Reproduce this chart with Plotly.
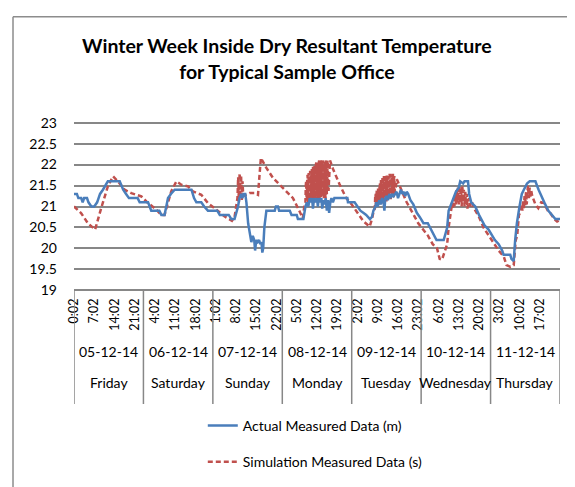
import plotly.graph_objects as go

# hours since 05-12-14 0:02
actual_hours = [0, 1, 1.5, 2.5, 3, 3.5, 4.5, 5, 6, 7, 8, 9, 10, 11, 11.7, 15.8, 16.5, 17, 18, 19,
                22, 22.7, 25.6, 26.7, 29.5, 30.2, 31.3, 32.5, 33.5, 34.8, 40.6, 41.5, 42.3, 44, 45, 46.3,
                49.5, 50.4, 53.5, 54.4, 55.5, 56.7, 57.2, 57.8, 58.2, 58.6, 59.2, 59.6, 60.2, 60.7, 61.3,
                61.8, 62.3, 62.6, 63, 63.5, 64, 64.4, 64.8, 65.1, 65.4, 65.8, 66.5, 69.4, 69.8, 70.5, 70.9,
                74.6, 75.2, 77, 77.4, 79.3, 80, 80.5, 81, 81.5, 82, 82.3, 82.6, 83, 83.5, 84, 84.3, 84.6,
                85, 85.5, 85.8, 86.2, 86.6, 87, 87.4, 87.8, 88.2, 88.6, 89, 89.5, 90, 94.5, 94.7, 97, 98,
                99, 100, 101, 102.3, 103, 103.5, 104.2, 104.5, 105, 105.5, 106, 106.5, 107, 107.3, 107.6,
                108, 108.5, 109, 109.5, 110, 110.5, 111, 111.5, 112, 112.5, 113, 113.5, 114, 114.5, 115,
                115.5, 116.3, 117.3, 118.5, 119.5, 120.8, 122.3, 123, 124, 125.3, 127.8, 128.3, 129, 129.5,
                130.5, 131.5, 132, 133, 133.5, 134.5, 135, 136.2, 136.6, 137.3, 138.7, 140, 141.9, 143.3,
                144.5, 145.5, 146.8, 148, 148.5, 150.8, 151.2, 152, 152.5, 153.1, 154, 154.8, 155.5, 156.6,
                157.5, 159.5, 160.6, 161.5, 162.9, 164, 165.2, 166.4, 168]
actual_temp = [21.3, 21.3, 21.2, 21.2, 21.1, 21.2, 21.2, 21.1, 21.0, 21.0, 21.1, 21.3, 21.4, 21.5, 21.6, 21.6, 21.5, 21.4, 21.3, 21.2,
               21.2, 21.1, 21.1, 20.9, 20.9, 20.8, 20.8, 21.2, 21.3, 21.4, 21.4, 21.2, 21.1, 21.1, 21.0, 20.9,
               20.9, 20.8, 20.8, 20.7, 20.7, 21.0, 21.2, 21.3, 21.2, 21.3, 21.3, 21.1, 20.6, 20.35, 20.15,
               20.3, 20.2, 19.95, 20.2, 20.15, 20.2, 20.1, 20.15, 19.9, 20.0, 20.5, 20.9, 20.9, 21.0, 21.0, 20.9,
               20.9, 20.8, 20.8, 20.7, 20.7, 21.0, 21.1, 21.0, 21.2, 21.1, 21.2, 20.95, 21.2, 21.1, 21.2, 21.0, 21.2,
               21.1, 21.2, 20.95, 21.15, 21.05, 21.2, 20.9, 21.15, 20.85, 21.1, 21.2, 21.1, 21.2, 21.2, 21.1, 21.1, 21.0,
               20.9, 20.85, 20.8, 20.7, 20.75, 20.9, 21.0, 21.1, 21.0, 21.15, 21.05, 21.2, 21.1, 20.9, 21.2,
               21.25, 21.15, 21.3, 21.2, 21.3, 21.25, 21.3, 21.35, 21.2, 21.3, 21.4, 21.3, 21.35, 21.25, 21.35,
               21.3, 21.15, 21.05, 20.85, 20.75, 20.6, 20.6, 20.5, 20.35, 20.2, 20.2, 20.35, 20.5, 20.9,
               21.1, 21.25, 21.35, 21.45, 21.6, 21.55, 21.6, 21.6, 21.3, 21.1, 21.0, 20.8, 20.55, 20.45,
               20.3, 20.2, 20.1, 19.95, 19.85, 19.85, 19.75, 19.7, 20.2, 20.6, 21.0, 21.3, 21.4, 21.55,
               21.6, 21.6, 21.4, 21.25, 21.05, 20.9, 20.8, 20.7, 20.7]

sim_hours = [0, 2.5, 4.8, 7.3, 9.4, 11.7, 13.5, 15.2, 17.5, 19.8, 23.3, 25.6, 27.9, 30.2, 31.3, 33.6, 35.4,
             37.1, 39.4, 41.1, 44, 46.3, 48.6, 52.1, 54.6, 55.5, 56.5, 56.75, 57, 57.25, 57.5, 57.75, 58,
             58.25, 58.5, 60.7, 62.4, 63.6, 64.6, 66.5, 68.8, 71.1, 73.4, 75.7, 78, 79.1, 79.7,
             80, 80.125, 80.25, 80.375, 80.5, 80.625, 80.75, 80.875,
             81, 81.125, 81.25, 81.375, 81.5, 81.625, 81.75, 81.875,
             82, 82.125, 82.25, 82.375, 82.5, 82.625, 82.75, 82.875,
             83, 83.125, 83.25, 83.375, 83.5, 83.625, 83.75, 83.875,
             84, 84.125, 84.25, 84.375, 84.5, 84.625, 84.75, 84.875,
             85, 85.125, 85.25, 85.375, 85.5, 85.625, 85.75, 85.875,
             86, 86.125, 86.25, 86.375, 86.5, 86.625, 86.75, 86.875,
             87, 87.125, 87.25, 87.375, 87.5, 87.625, 87.75, 87.875,
             88, 88.5, 89.5, 91.8, 94.1, 96, 97.6, 100, 102.2, 103, 103.6,
             104, 104.125, 104.25, 104.375, 104.5, 104.625, 104.75, 104.875,
             105, 105.125, 105.25, 105.375, 105.5, 105.625, 105.75, 105.875,
             106, 106.125, 106.25, 106.375, 106.5, 106.625, 106.75, 106.875,
             107, 107.125, 107.25, 107.375, 107.5, 107.625, 107.75, 107.875,
             108, 108.125, 108.25, 108.375, 108.5, 108.625, 108.75, 108.875,
             109, 109.125, 109.25, 109.375, 109.5, 109.625, 109.75, 109.875,
             110, 110.125, 110.25, 110.375, 110.5, 110.625, 110.75, 110.875,
             111, 111.6, 113.4, 115, 116.8, 119, 122.4, 124, 125.5, 126.4, 127.2, 128, 129, 129.5, 130.2,
             130.75, 131, 131.25, 131.5, 131.75, 132, 132.25, 132.5, 132.75, 133, 133.25, 133.5, 133.75, 134,
             134.25, 134.5, 134.75, 135, 135.25, 135.5, 135.75, 136, 136.5, 137, 137.6, 138.3, 140, 141.7,
             143.5, 145.2, 146.8, 148.6, 149.5, 150.9, 152, 152.7, 153.2, 153.8, 154.3, 154.75, 155, 155.25,
             155.5, 155.75, 156, 156.25, 156.5, 156.9, 157.25, 157.5, 157.75, 158, 158.4, 159.5, 160.5, 161.5,
             162.4, 163.8, 164.7, 166, 167, 168]
sim_temp = [21.0, 20.84, 20.6, 20.45, 20.96, 21.48, 21.72, 21.6, 21.4, 21.32, 21.24, 21.08, 20.96, 20.8, 20.8, 21.36, 21.6,
            21.52, 21.48, 21.36, 21.28, 21.08, 20.96, 20.76, 20.66, 20.75, 21.2, 21.7, 21.1, 21.8, 21.2, 21.75, 21.15,
            21.6, 21.25, 21.32, 21.32, 21.28, 22.16, 21.92, 21.68, 21.52, 21.36, 21.2, 20.88, 20.72, 21.05,
            21.1, 21.5, 21.6, 21.2, 21.15, 21.7, 21.75, 21.2,
            21.1, 21.8, 21.75, 21.15, 21.2, 21.85, 21.8, 21.2,
            21.15, 21.9, 21.85, 21.1, 21.2, 21.95, 21.9, 21.25,
            21.1, 22.0, 21.95, 21.2, 21.25, 22.0, 22.05, 21.15,
            21.2, 22.05, 22.0, 21.25, 21.15, 22.05, 22.1, 21.2,
            21.3, 22.1, 22.05, 21.2, 21.2, 22.05, 22.1, 21.3,
            21.25, 22.1, 22.05, 21.2, 21.3, 22.1, 22.05, 21.25,
            21.2, 22.05, 22.1, 21.3, 21.35, 22.1, 22.05, 21.4,
            21.4, 22.1, 21.9, 21.53, 21.2, 21.05, 20.9, 20.65, 20.52, 20.7, 20.9,
            20.95, 21.25, 21.3, 21.0, 21.0, 21.35, 21.4, 21.05,
            21.05, 21.45, 21.45, 21.1, 21.1, 21.5, 21.55, 21.05,
            21.05, 21.6, 21.6, 21.1, 21.15, 21.65, 21.65, 21.1,
            21.1, 21.7, 21.7, 21.2, 21.2, 21.7, 21.7, 21.15,
            21.15, 21.75, 21.75, 21.2, 21.2, 21.7, 21.7, 21.25,
            21.25, 21.75, 21.75, 21.2, 21.2, 21.7, 21.7, 21.3,
            21.3, 21.75, 21.75, 21.25, 21.25, 21.7, 21.7, 21.35,
            21.35, 21.65, 21.36, 21.1, 20.88, 20.6, 20.3, 20.1, 20.0, 19.75, 19.73, 19.9, 20.1, 20.5, 20.8,
            21.1, 20.95, 21.2, 21.0, 21.3, 21.05, 21.4, 21.1, 21.45, 21.05, 21.5, 21.1, 21.45, 21.0,
            21.5, 21.1, 21.4, 21.0, 21.35, 21.05, 21.3, 20.95, 21.2, 21.0, 21.1, 20.96, 20.75, 20.48,
            20.3, 20.1, 19.95, 19.8, 19.6, 19.56, 19.6, 20.2, 20.3, 20.8, 20.85, 21.05, 20.9, 21.15,
            20.95, 21.25, 21.0, 21.35, 21.05, 21.5, 21.2, 21.45, 21.2, 21.4, 21.25, 21.05, 20.96, 21.1,
            21.08, 20.9, 20.84, 20.7, 20.64, 20.68]

hour_labels = ["0:02", "7:02", "14:02", "21:02", "4:02", "11:02", "18:02", "1:02", "8:02", "15:02",
               "22:02", "5:02", "12:02", "19:02", "2:02", "9:02", "16:02", "23:02", "6:02", "13:02",
               "20:02", "3:02", "10:02", "17:02"]
dates = ["05-12-14", "06-12-14", "07-12-14", "08-12-14", "09-12-14", "10-12-14", "11-12-14"]
days = ["Friday", "Saturday", "Sunday", "Monday", "Tuesday", "Wednesday", "Thursday"]

FONT = "Lato"
GRID = "#878787"

fig = go.Figure()
fig.add_trace(go.Scatter(x=sim_hours, y=sim_temp, mode="lines", name="Simulation Measured Data (s)",
                         line=dict(color="#C0504D", width=2.5, dash="5px,3px"),
                         legendgroup="s", legendrank=2))
fig.add_trace(go.Scatter(x=actual_hours, y=actual_temp, mode="lines", name="Actual Measured Data (m)",
                         line=dict(color="#4A7EBB", width=2.5),
                         legendgroup="m", legendrank=1))

# plot area: 113..284 px tall (range padded so the 19 and 23 grid lines show)
shapes = []
# day separators through the label rows
for i in range(len(days) + 1):
    shapes.append(dict(type="line", xref="x", yref="y domain", x0=24 * i, x1=24 * i, y0=0.0098, y1=-0.655,
                       line=dict(color=GRID, width=1.5)))
# outer chart frame (top and left edges)
shapes.append(dict(type="line", xref="paper", yref="paper", x0=-0.1255, x1=1.1, y0=1.61, y1=1.61,
                   line=dict(color="#8C8C8C", width=1.5)))
shapes.append(dict(type="line", xref="paper", yref="paper", x0=-0.1255, x1=-0.1255, y0=1.61, y1=-1.4,
                   line=dict(color="#8C8C8C", width=1.5)))

annotations = []
for i, (d, name) in enumerate(zip(dates, days)):
    annotations.append(dict(x=24 * i + 12, y=-0.41, xref="x", yref="paper", text=d, showarrow=False,
                            font=dict(family=FONT, size=14, color="black")))
    annotations.append(dict(x=24 * i + 12, y=-0.59, xref="x", yref="paper", text=name, showarrow=False,
                            font=dict(family=FONT, size=14, color="black")))

fig.update_layout(
    width=575, height=487,
    margin=dict(l=66, r=23, t=113, b=203),
    paper_bgcolor="white", plot_bgcolor="white",
    font=dict(family=FONT, color="black"),
    title=dict(text="<b>Winter Week Inside Dry Resultant Temperature<br>for Typical Sample Office</b>",
               x=0.485, xanchor="center", y=0.907, yanchor="middle",
               font=dict(family=FONT, size=19.5, color="black")),
    xaxis=dict(range=[0, 168], showgrid=False, zeroline=False, showline=False,
               tickvals=[7 * i for i in range(len(hour_labels))], ticktext=hour_labels,
               tickangle=-90, ticks="", ticklabelstandoff=3,
               tickfont=dict(family=FONT, size=12.5, color="black")),
    yaxis=dict(range=[18.96, 23.04], tickvals=[19 + 0.5 * i for i in range(9)],
               showgrid=True, gridcolor=GRID, gridwidth=1.5,
               zeroline=False, showline=False, ticks="", ticklabelstandoff=16,
               tickfont=dict(family=FONT, size=14, color="black")),
    shapes=shapes,
    annotations=annotations,
    showlegend=True,
    legend=dict(x=0.265, y=-0.69, xanchor="left", yanchor="top", orientation="v",
                tracegroupgap=15, font=dict(family=FONT, size=14, color="black")),
)

fig.write_html("out.html")
